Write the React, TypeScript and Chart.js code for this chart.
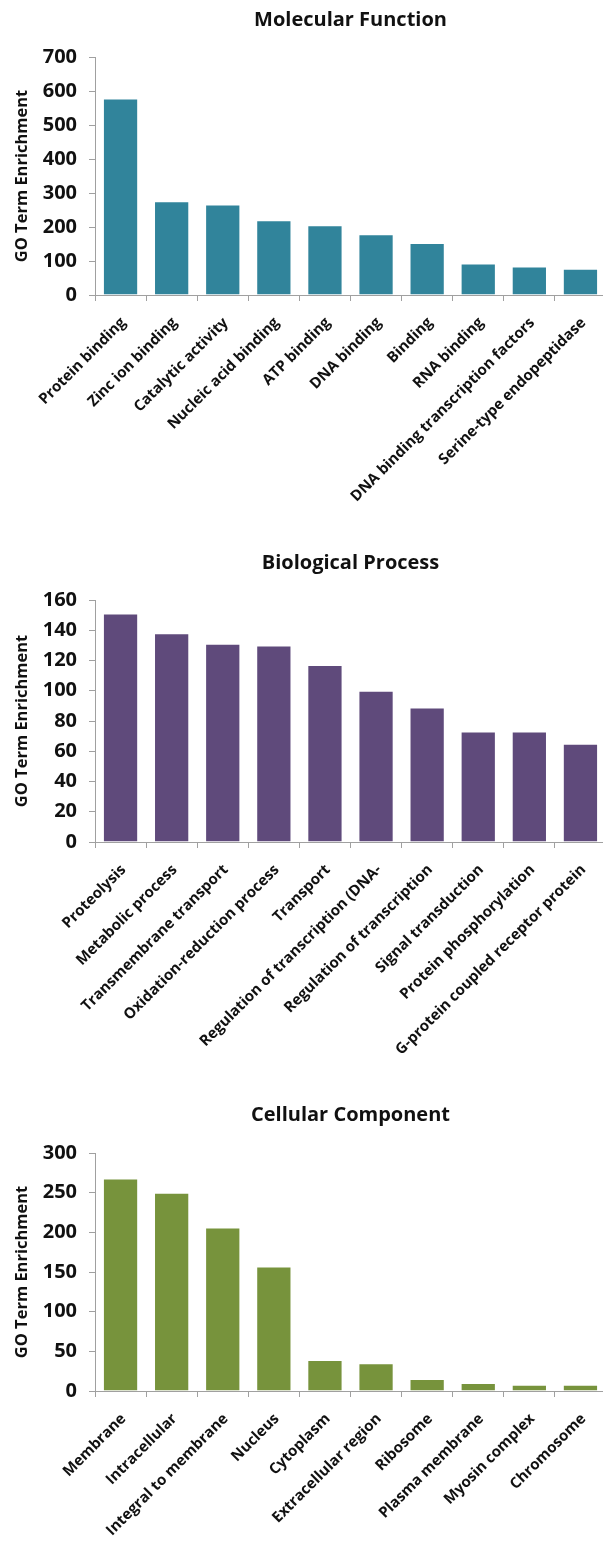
import { useEffect, useRef } from "react";
import { Chart, registerables } from "chart.js";

Chart.register(...registerables);

// ---------- data ----------
const mfCategories = [
  "Protein binding",
  "Zinc ion binding",
  "Catalytic activity",
  "Nucleic acid binding",
  "ATP binding",
  "DNA binding",
  "Binding",
  "RNA binding",
  "DNA binding transcription factors",
  "Serine-type endopeptidase",
];
const mfValues = [578, 276, 266, 220, 205, 179, 153, 93, 84, 77];

const bpCategories = [
  "Proteolysis",
  "Metabolic process",
  "Transmembrane transport",
  "Oxidation-reduction process",
  "Transport",
  "Regulation of transcription (DNA-",
  "Regulation of transcription",
  "Signal transduction",
  "Protein phosphorylation",
  "G-protein coupled receptor protein",
];
const bpValues = [151, 138, 131, 130, 117, 100, 89, 73, 73, 65];

const ccCategories = [
  "Membrane",
  "Intracellular",
  "Integral to membrane",
  "Nucleus",
  "Cytoplasm",
  "Extracellular region",
  "Ribosome",
  "Plasma membrane",
  "Myosin complex",
  "Chromosome",
];
const ccValues = [268, 250, 206, 157, 39, 35, 15, 10, 8, 8];

const yAxisTitle = "GO Term Enrichment";

// ---------- layout / style ----------
const FONT = "'Open Sans', sans-serif";
const AXIS = "#a0a0a0";
const TEXT = "#111111";
const CANVAS_W = 612;
const AXIS_X = 95;
const AREA_RIGHT = 606;

type PanelProps = {
  title: string;
  labels: string[];
  values: number[];
  color: string;
  yMax: number;
  yStep: number;
  top: number;
  height: number;
  titleY: number;
  areaTop: number;
  areaBottom: number;
};

function Panel(p: PanelProps) {
  const ref = useRef<HTMLCanvasElement | null>(null);
  useEffect(() => {
    const titleSize = 20;
    const lh = 1.2;
    const padTop = p.titleY - (titleSize * lh) / 2;
    const padBottom = p.areaTop - padTop - titleSize * lh;
    const chart = new Chart(ref.current as HTMLCanvasElement, {
      type: "bar",
      data: {
        labels: p.labels,
        datasets: [
          {
            data: p.values,
            backgroundColor: p.color,
            borderColor: "rgba(255,255,255,0.35)",
            borderWidth: 1,
            barPercentage: 0.69,
            categoryPercentage: 1,
          },
        ],
      },
      options: {
        animation: false,
        responsive: false,
        maintainAspectRatio: false,
        layout: { padding: { left: 0, right: CANVAS_W - AREA_RIGHT, top: 0, bottom: 0 } },
        plugins: {
          legend: { display: false },
          tooltip: { enabled: false },
          title: {
            display: true,
            text: p.title,
            fullSize: false,
            color: TEXT,
            font: { family: FONT, size: titleSize, weight: "bold", lineHeight: lh },
            padding: { top: padTop, bottom: padBottom },
          },
        },
        scales: {
          x: {
            grid: {
              display: true,
              drawOnChartArea: false,
              drawTicks: true,
              tickLength: 6,
              color: AXIS,
              offset: true,
            },
            border: { color: AXIS, width: 1 },
            ticks: {
              color: TEXT,
              font: { family: FONT, size: 15, weight: "bold" },
              maxRotation: 45,
              minRotation: 45,
              autoSkip: false,
              padding: 13,
              labelOffset: 3,
            },
            afterFit: (s: any) => {
              s.height = p.height - p.areaBottom;
            },
          },
          y: {
            min: 0,
            max: p.yMax,
            ticks: {
              stepSize: p.yStep,
              color: TEXT,
              font: { family: FONT, size: 20, weight: "bold" },
              padding: 12,
            },
            grid: {
              drawOnChartArea: false,
              drawTicks: true,
              tickLength: 6,
              color: AXIS,
            },
            border: { color: AXIS, width: 1 },
            title: {
              display: true,
              text: yAxisTitle,
              color: TEXT,
              font: { family: FONT, size: 16.5, weight: "bold", lineHeight: 1.2 },
              padding: { top: 12, bottom: 0 },
            },
            afterFit: (s: any) => {
              s.width = AXIS_X;
            },
          },
        },
      },
    } as any);
    return () => chart.destroy();
  }, []);
  return (
    <canvas
      ref={ref}
      width={CANVAS_W}
      height={p.height}
      style={{ position: "absolute", left: 0, top: p.top, width: CANVAS_W, height: p.height }}
    />
  );
}

export default function App() {
  return (
    <div
      style={{
        position: "absolute",
        left: 0,
        top: 0,
        width: 603,
        height: 1543,
        overflow: "hidden",
        background: "#ffffff",
      }}
    >
      <Panel
        title="Molecular Function"
        labels={mfCategories}
        values={mfValues}
        color="#31849B"
        yMax={700}
        yStep={100}
        top={0}
        height={525}
        titleY={20}
        areaTop={57}
        areaBottom={295}
      />
      <Panel
        title="Biological Process"
        labels={bpCategories}
        values={bpValues}
        color="#5F4A7B"
        yMax={160}
        yStep={20}
        top={525}
        height={550}
        titleY={38}
        areaTop={75}
        areaBottom={317}
      />
      <Panel
        title="Cellular Component"
        labels={ccCategories}
        values={ccValues}
        color="#77933C"
        yMax={300}
        yStep={50}
        top={1075}
        height={468}
        titleY={40}
        areaTop={78}
        areaBottom={316}
      />
    </div>
  );
}
